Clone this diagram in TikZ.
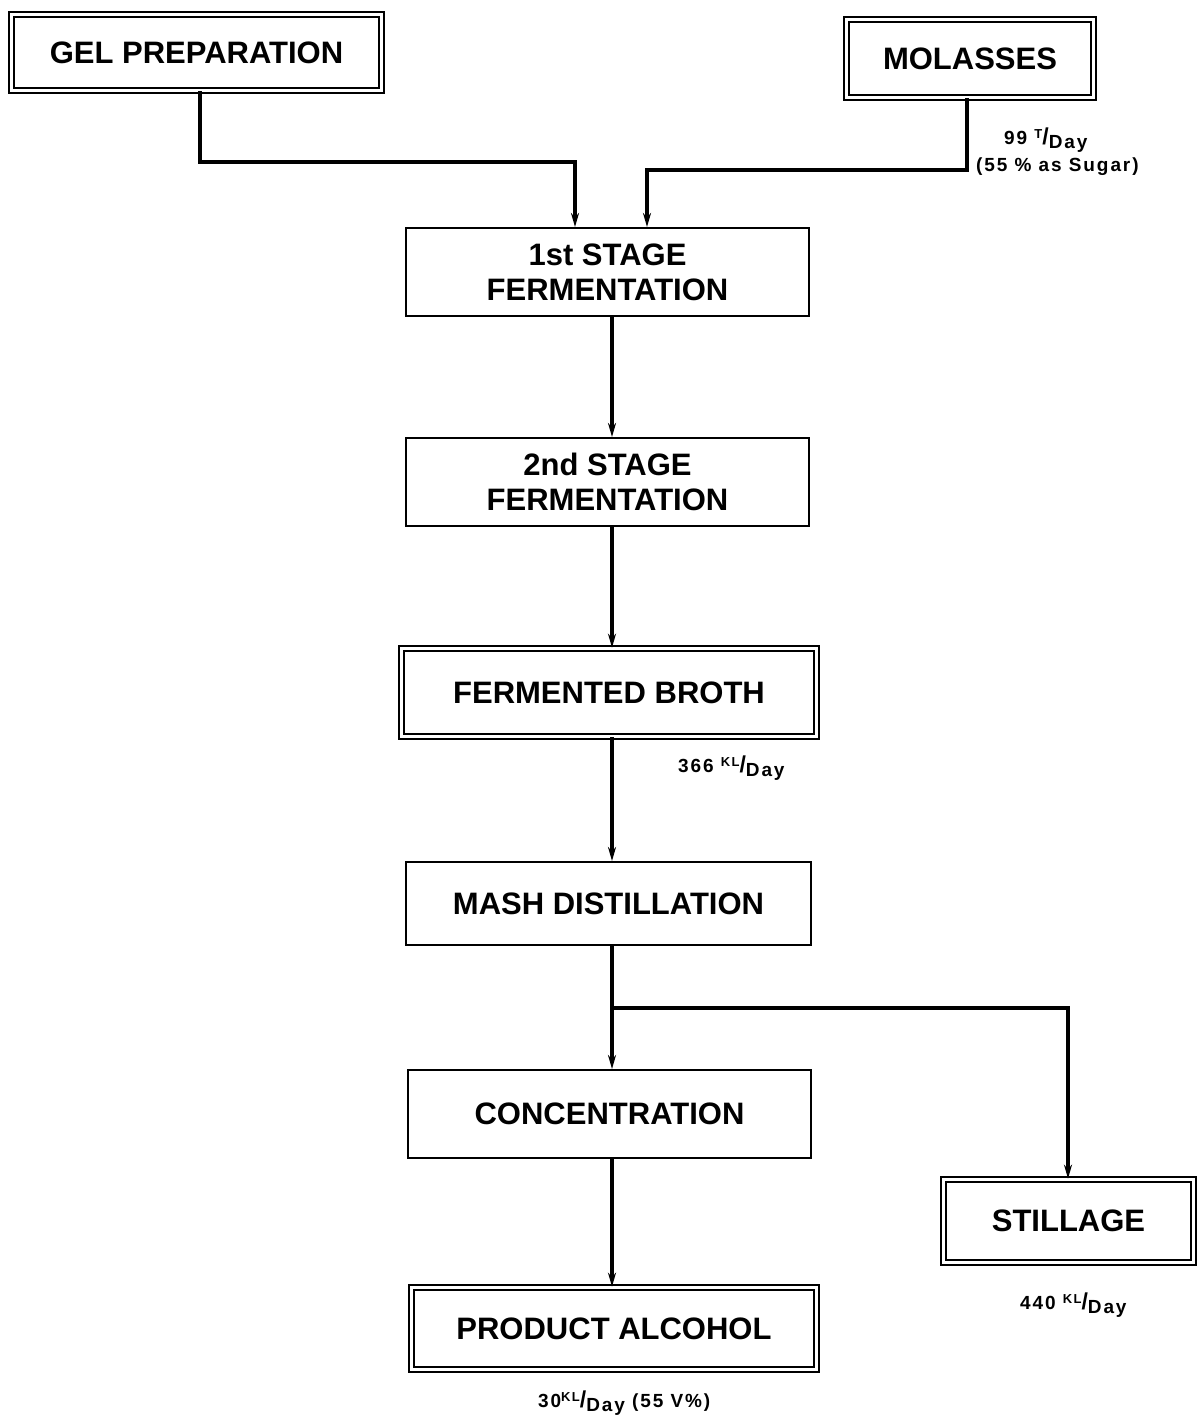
\documentclass[tikz,border=0pt]{standalone}
\usepackage{fontspec}
\setmainfont{Liberation Sans}
\usetikzlibrary{arrows.meta}
% rate label with a slanted unit: value, unit over "Day"
\newcommand\perday[1]{\raisebox{0.6ex}{\fontsize{13}{13}\selectfont #1}{\fontsize{23}{23}\selectfont/}\raisebox{-0.35ex}{Day}}
\begin{document}
\begin{tikzpicture}[x=1pt,y=-1pt,
  box/.style={draw, line width=2pt, inner sep=0pt, align=center,
    font=\bfseries\fontsize{31}{35}\selectfont},
  dbox/.style={box, double, double distance=3.5pt, line width=1.8pt},
  flow/.style={line width=3.2pt, -{Stealth[length=14pt,width=8pt]}},
  rate/.style={anchor=west, inner sep=0pt,
    font=\bfseries\fontsize{19}{22}\selectfont\addfontfeature{LetterSpace=10}}]
\useasboundingbox (0,0) rectangle (1199,1420);

% process boxes
\node[dbox, minimum width=369.9pt, minimum height=75.9pt] (gel) at (196.5,52.5) {GEL PREPARATION};
\node[dbox, minimum width=246.9pt, minimum height=77.9pt] (mol) at (970,58.5) {MOLASSES};
\node[box, minimum width=403pt, minimum height=88pt] (s1) at (607.5,272) {1st STAGE\\FERMENTATION};
\node[box, minimum width=403pt, minimum height=88pt] (s2) at (607.5,482) {2nd STAGE\\FERMENTATION};
\node[dbox, minimum width=414.9pt, minimum height=87.9pt] (broth) at (609,692.5) {FERMENTED BROTH};
\node[box, minimum width=405pt, minimum height=83pt] (mash) at (608.5,903.5) {MASH DISTILLATION};
\node[box, minimum width=403pt, minimum height=88pt] (conc) at (609.5,1114) {CONCENTRATION};
\node[dbox, minimum width=249.9pt, minimum height=82.9pt] (still) at (1068.5,1221) {STILLAGE};
\node[dbox, minimum width=404.9pt, minimum height=81.9pt] (prod) at (614,1328.5) {PRODUCT ALCOHOL};

% turning points of the connectors
\coordinate (ax) at (612,0);
\coordinate (g1) at (200,162);
\coordinate (g2) at (575,162);
\coordinate (m1) at (967,170);
\coordinate (m2) at (647,170);
\coordinate (br) at (612,1008);
\coordinate (br2) at (1068,1008);

% feeds into the first stage
\draw[flow] (gel.south -| g1) -- (g1) -- (g2) -- (g2 |- s1.north);
\draw[flow] (mol.south -| m1) -- (m1) -- (m2) -- (m2 |- s1.north);

% main line
\draw[flow] (s1.south -| ax) -- (s2.north -| ax);
\draw[flow] (s2.south -| ax) -- (broth.north -| ax);
\draw[flow] (broth.south -| ax) -- (mash.north -| ax);
\draw[flow] (mash.south -| ax) -- (conc.north -| ax);
\draw[flow] (br) -- (br2) -- (still.north -| br2);
\draw[flow] (conc.south -| ax) -- (prod.north -| ax);

% flow rates
\node[rate] (r1) at (1004,140) {99 \perday{T}};
\node[rate] (r2) at (976,167) {(55 \% as Sugar)};
\node[rate] (r3) at (678,768) {366 \perday{KL}};
\node[rate] (r4) at (1020,1305) {440 \perday{KL}};
\node[rate] (r5) at (538,1403) {30\perday{KL} (55 V\%)};
\end{tikzpicture}
\end{document}
